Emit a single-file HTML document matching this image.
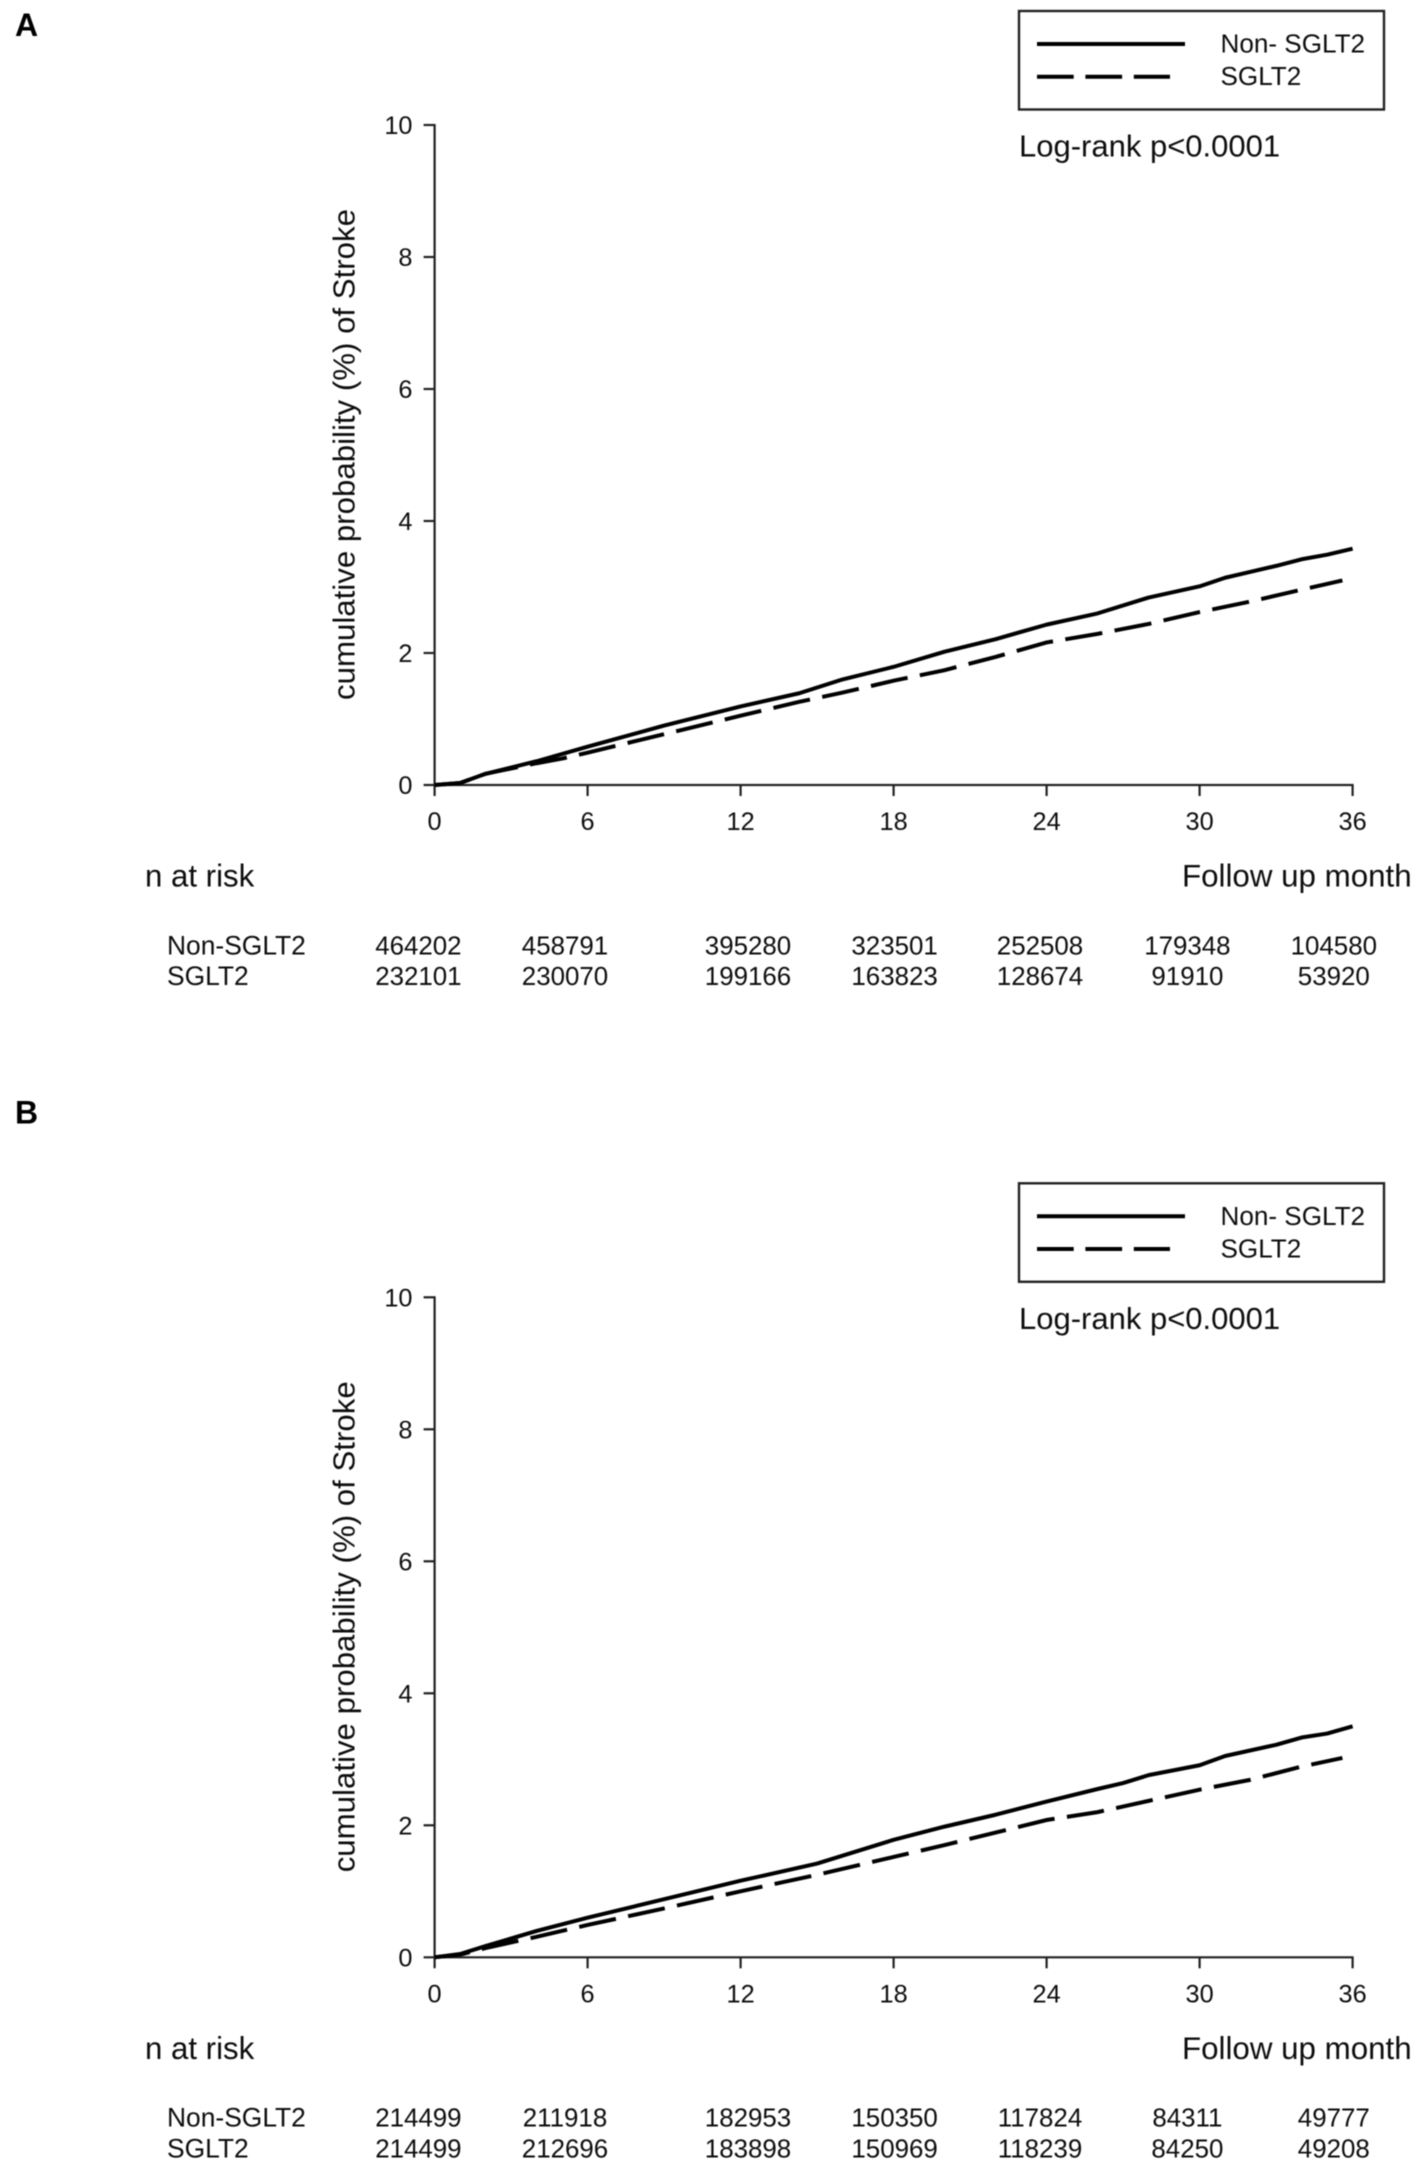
<!DOCTYPE html>
<html lang="en">
<head>
<meta charset="utf-8">
<title>Cumulative probability of stroke</title>
<style>
html,body{margin:0;padding:0;background:#fff;width:1417px;height:2168px;overflow:hidden}
svg{display:block}
text{font-family:"Liberation Sans",Arial,sans-serif;fill:#111}
</style>
</head>
<body>
<svg id="figure" width="1417" height="2168" viewBox="0 0 1417 2168" xmlns="http://www.w3.org/2000/svg">
  <defs>
    <filter id="soft" x="-2%" y="-2%" width="104%" height="104%"><feGaussianBlur stdDeviation="0.4"/></filter>
  </defs>
  <g id="root" filter="url(#soft)"></g>
</svg>
<script>
// Shared axis data
const monthTicks = [0, 6, 12, 18, 24, 30, 36];
const probabilityTicks = [0, 2, 4, 6, 8, 10];

// Panel A series
const solidMonthsA = [0, 1, 2, 4, 6, 9, 12, 14.3, 16, 18, 20, 22, 24, 26, 28, 30, 31, 32, 33, 34, 35, 36];
const solidValuesA = [0, 0.03, 0.17, 0.36, 0.58, 0.90, 1.19, 1.39, 1.60, 1.79, 2.02, 2.21, 2.43, 2.60, 2.84, 3.01, 3.14, 3.23, 3.32, 3.42, 3.49, 3.58];
const dashedMonthsA = [0, 1, 2, 4, 5, 6, 9, 12, 14.3, 16, 18, 20, 22, 24, 26, 28, 30, 32, 34, 35.6];
const dashedValuesA = [0, 0.03, 0.17, 0.33, 0.40, 0.49, 0.77, 1.05, 1.26, 1.40, 1.58, 1.74, 1.94, 2.16, 2.29, 2.44, 2.62, 2.78, 2.96, 3.10];
const riskNonA = ['464202', '458791', '395280', '323501', '252508', '179348', '104580'];
const riskSgltA = ['232101', '230070', '199166', '163823', '128674', '91910', '53920'];

// Panel B series
const solidMonthsB = [0, 1, 2, 4, 6, 9, 12, 15, 18, 20, 22, 24, 26, 27, 28, 30, 31, 33, 34, 35, 36];
const solidValuesB = [0, 0.05, 0.17, 0.40, 0.60, 0.88, 1.16, 1.42, 1.78, 1.98, 2.16, 2.36, 2.55, 2.64, 2.76, 2.91, 3.05, 3.22, 3.33, 3.39, 3.50];
const dashedMonthsB = [0, 1, 2, 4, 6, 9, 12, 15, 18, 20, 22, 24, 26, 28, 30, 32, 34, 35.6];
const dashedValuesB = [0, 0.04, 0.14, 0.31, 0.49, 0.74, 1.00, 1.25, 1.52, 1.70, 1.89, 2.08, 2.20, 2.37, 2.54, 2.69, 2.89, 3.02];
const riskNonB = ['214499', '211918', '182953', '150350', '117824', '84311', '49777'];
const riskSgltB = ['214499', '212696', '183898', '150969', '118239', '84250', '49208'];

const SVG_NS = 'http://www.w3.org/2000/svg';
const root = document.getElementById('root');
const riskColumnCentres = [418.4, 565, 748, 894.6, 1040, 1187.4, 1333.8];

function make(parent, tag, attrs, content) {
  const el = document.createElementNS(SVG_NS, tag);
  for (const key in attrs) el.setAttribute(key, attrs[key]);
  if (content !== undefined) el.textContent = content;
  parent.appendChild(el);
  return el;
}

function linePath(months, values, xAxis, yAxis) {
  return months.map(function (m, i) {
    return (i ? 'L' : 'M') + xAxis(m).toFixed(2) + ' ' + yAxis(values[i]).toFixed(2);
  }).join(' ');
}

function drawPanel(letter, letterBaseline, offset, solidMonths, solidValues, dashedMonths, dashedValues, riskNon, riskSglt) {
  const originX = 434.6, pxPerMonth = 25.5;
  const originY = 785 + offset, pxPerUnit = 66;
  const xAxis = function (m) { return originX + m * pxPerMonth; };
  const yAxis = function (v) { return originY - v * pxPerUnit; };

  const g = make(root, 'g', {});
  
  

  const panelLabel = make(g, 'text', { x: 15, y: letterBaseline, 'font-size': 32, 'font-weight': 700, style: 'fill:#000' }, letter);
  
  

  // Legend
  const legend = make(g, 'g', {});
  
  
  const legendBox = make(legend, 'rect', { x: 1019, y: 11 + offset, width: 365, height: 98.5, fill: 'none', stroke: '#222', 'stroke-width': 2.4 });
  
  
  const legendSolid = make(legend, 'line', { x1: 1037, x2: 1185, y1: 44 + offset, y2: 44 + offset, stroke: '#000', 'stroke-width': 4 });
  
  
  const legendDash = make(legend, 'line', { x1: 1037, x2: 1170, y1: 76.7 + offset, y2: 76.7 + offset, stroke: '#000', 'stroke-width': 4, 'stroke-dasharray': '36.7 11.7' });
  
  
  const legendNon = make(legend, 'text', { x: 1220.5, y: 52.7 + offset, 'font-size': 26.1 }, 'Non- SGLT2');
  
  
  const legendSglt = make(legend, 'text', { x: 1220.5, y: 85 + offset, 'font-size': 26.1 }, 'SGLT2');
  
  

  const logRank = make(g, 'text', { x: 1019, y: 156.7 + offset, 'font-size': 31 }, 'Log-rank p<0.0001');
  
  

  // Axes
  const yAxisLine = make(g, 'line', { x1: originX, x2: originX, y1: yAxis(10) - 1, y2: originY + 11, stroke: '#222', 'stroke-width': 2.2 });
  
  
  const xAxisLine = make(g, 'line', { x1: originX - 11, x2: xAxis(36) + 1, y1: originY, y2: originY, stroke: '#222', 'stroke-width': 2.2 });
  
  

  probabilityTicks.forEach(function (v) {
    if (v !== 0) {
      const tick = make(g, 'line', { x1: originX - 11, x2: originX, y1: yAxis(v), y2: yAxis(v), stroke: '#222', 'stroke-width': 2.2 });
      
      
    }
    const label = make(g, 'text', { x: 412.5, y: yAxis(v) + 9.2, 'font-size': 25.3, 'text-anchor': 'end' }, String(v));
    
    
  });

  monthTicks.forEach(function (m) {
    if (m !== 0) {
      const tick = make(g, 'line', { x1: xAxis(m), x2: xAxis(m), y1: originY, y2: originY + 11, stroke: '#222', 'stroke-width': 2.2 });
      
      
    }
    const label = make(g, 'text', { x: xAxis(m), y: originY + 45, 'font-size': 25.3, 'text-anchor': 'middle' }, String(m));
    
    
  });

  const yTitle = make(g, 'text', { transform: 'translate(354.5 ' + (700 + offset) + ') rotate(-90)', 'font-size': 31, textLength: 491, lengthAdjust: 'spacingAndGlyphs' }, 'cumulative probability (%) of Stroke');
  
  

  const xTitle = make(g, 'text', { x: 1182, y: 886.7 + offset, 'font-size': 31.3 }, 'Follow up month');
  
  

  const riskTitle = make(g, 'text', { x: 145, y: 886.7 + offset, 'font-size': 31.2 }, 'n at risk');
  
  

  // Series
  const dashedLine = make(g, 'path', { d: linePath(dashedMonths, dashedValues, xAxis, yAxis), fill: 'none', stroke: '#000', 'stroke-width': 4, 'stroke-dasharray': '37.5 12.5', 'stroke-dashoffset': 2 });
  
  
  const solidLine = make(g, 'path', { d: linePath(solidMonths, solidValues, xAxis, yAxis), fill: 'none', stroke: '#000', 'stroke-width': 4, 'stroke-linejoin': 'round' });
  
  

  // Risk table
  const rowNonLabel = make(g, 'text', { x: 167, y: 954.3 + offset, 'font-size': 26.4 }, 'Non-SGLT2');
  
  
  const rowSgltLabel = make(g, 'text', { x: 167, y: 985 + offset, 'font-size': 26.4 }, 'SGLT2');
  
  

  riskNon.forEach(function (value, i) {
    const cell = make(g, 'text', { x: riskColumnCentres[i], y: 954.3 + offset, 'font-size': 25.9, 'text-anchor': 'middle' }, value);
    
    
  });
  riskSglt.forEach(function (value, i) {
    const cell = make(g, 'text', { x: riskColumnCentres[i], y: 985 + offset, 'font-size': 25.9, 'text-anchor': 'middle' }, value);
    
    
  });
}

drawPanel('A', 36, 0, solidMonthsA, solidValuesA, dashedMonthsA, dashedValuesA, riskNonA, riskSgltA);
drawPanel('B', 1123.3, 1172.3, solidMonthsB, solidValuesB, dashedMonthsB, dashedValuesB, riskNonB, riskSgltB);
</script>
</body>
</html>
